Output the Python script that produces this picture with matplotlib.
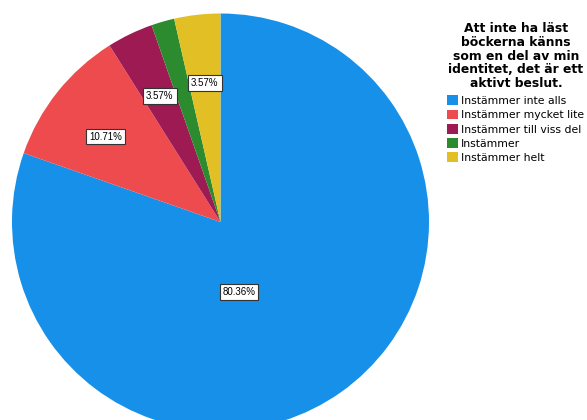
import matplotlib.pyplot as plt

plt.rcParams['font.family'] = ['DejaVu Sans']

categories = ['Instämmer inte alls', 'Instämmer mycket lite', 'Instämmer till viss del',
              'Instämmer', 'Instämmer helt']
percent = [80.36, 10.71, 3.57, 1.79, 3.57]
colors = ['#1790E9', '#EE4B4E', '#9E1A52', '#2B8B2E', '#E2BF24']
title = 'Att inte ha läst\nböckerna känns\nsom en del av min\nidentitet, det är ett\naktivt beslut.'

fig = plt.figure(figsize=(5.87, 4.20), dpi=100)
ax = fig.add_axes([12 / 587, -10.5 / 420, 417 / 587, 417 / 420])

def pct_label(p):
    # the smallest slice carries no label
    return '' if p < 2 else f'{p:.2f}%'

wedges, texts, autotexts = ax.pie(
    percent, colors=colors, startangle=90, counterclock=False,
    autopct=pct_label, pctdistance=0.67, radius=1,
    wedgeprops=dict(linewidth=0),
    textprops=dict(fontsize=7, color='black', family='Liberation Sans'),
)
# the large slice label sits nearer the centre
autotexts[0].set_position((0.089, -0.336))
autotexts[1].set_position((-0.55, 0.41))
for t in autotexts:
    if t.get_text():
        t.set_bbox(dict(boxstyle='square,pad=0.3', facecolor='white',
                        edgecolor='#333333', linewidth=0.8))

ax.set_xlim(-1, 1)
ax.set_ylim(-1, 1)
ax.set_aspect('equal')
ax.axis('off')

fig.text(516 / 587, 1 - 22 / 420, title, ha='center', va='top',
         fontsize=8.9, fontweight='bold', linespacing=1.08)

fig.legend(wedges, categories, loc='upper left',
           bbox_to_anchor=(447 / 587, 1 - 95.5 / 420), frameon=False,
           fontsize=7.8, handlelength=1.0, handleheight=1.0,
           handletextpad=0.25, labelspacing=0.34, borderpad=0, borderaxespad=0)

fig.savefig('out.png', dpi=100)
